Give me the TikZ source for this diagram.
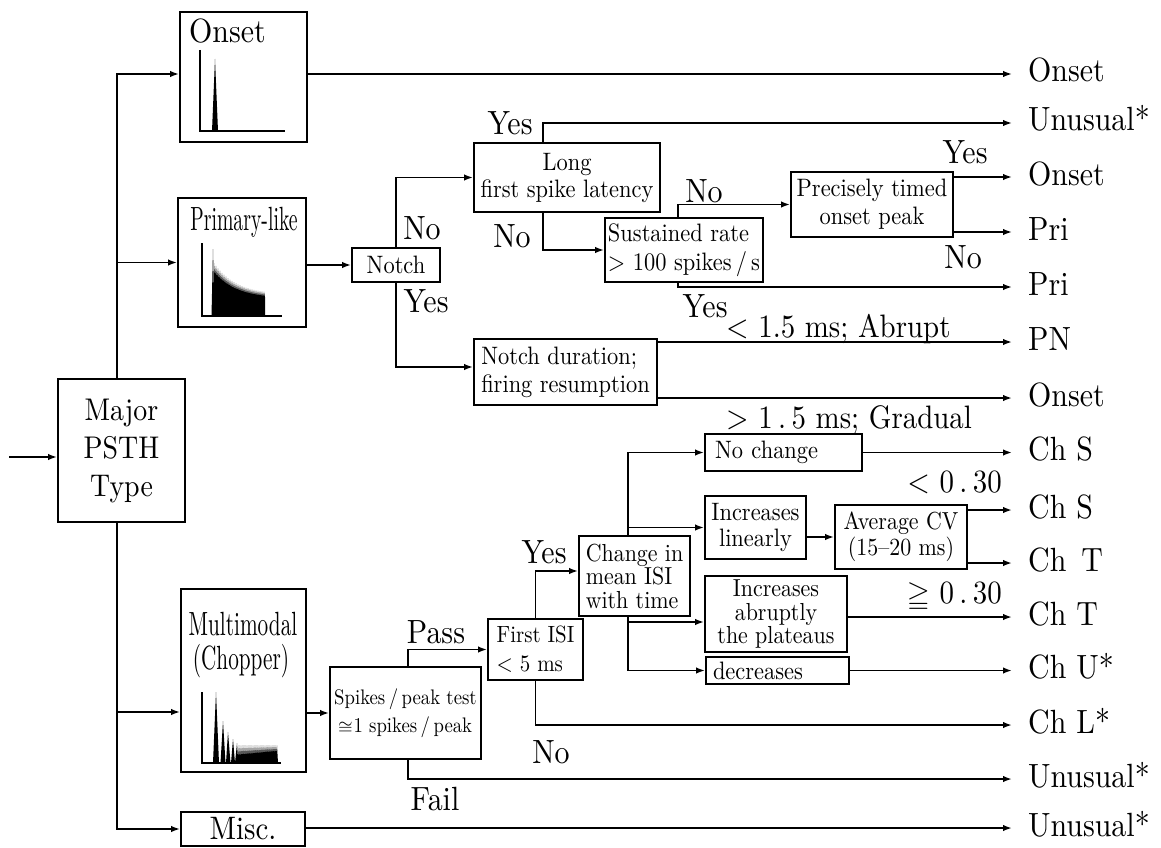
\documentclass[tikz,border=0pt]{standalone}
\usepackage{fontspec}
\usepackage{unicode-math}
% a slightly condensed, taller setting of Latin Modern
\setmainfont{lmroman10-regular.otf}[Scale=1.12, FakeStretch=0.89]
\setmathfont{Latin Modern Math}
\usetikzlibrary{arrows.meta,calc}

\newcommand\BoxFont{\fontsize{22.5}{28}\selectfont}
\newcommand\LblFont{\fontsize{30}{36}\selectfont}
\newcommand\MidFont{\fontsize{29}{34}\selectfont}

\tikzset{
  flowbox/.style={draw, line width=1.9pt, inner sep=0pt, font=\BoxFont},
  flowarrow/.style={line width=1.9pt, -{Latex[length=9pt,width=6.5pt]}},
  axisline/.style={line width=1.5pt},
  lbl/.style={inner sep=0pt, font=\LblFont, anchor=base},
  outlbl/.style={inner sep=0pt, font=\LblFont, anchor=base west},
  midlbl/.style={inner sep=0pt, font=\MidFont},
}

\begin{document}
\begin{tikzpicture}[x=1pt,y=-1pt]
\useasboundingbox (0,0) rectangle (1161,848);

% ---------- first column: PSTH shapes ----------
\node[flowbox, minimum width=127pt, minimum height=143pt, font=\fontsize{28}{38}\selectfont, align=center]
  (major) at (121.5,450.5) {Major\\PSTH\\Type};

\node[flowbox, minimum width=127pt, minimum height=130pt] (onsetbox) at (243.5,77) {};
\node[inner sep=0pt, anchor=base west, font=\LblFont] (onsettitle) at (189,43) {Onset};
\draw[axisline] (200,50) -- (200,131) -- (285,131);
\fill (212,131) -- (215,59) -- (218,131) -- cycle;

\node[flowbox, minimum width=128pt, minimum height=129pt] (primbox) at (242,262.5) {};
\node[inner sep=0pt, anchor=base, font=\LblFont] (primtitle) at (244,230) {\scalebox{0.66}[1]{Primary-like}};
\draw[axisline] (202,243) -- (202,316) -- (282,316);
\fill (211.5,316) -- (213,249) -- (214.5,316) -- cycle;
\fill (214,316) \foreach \k in {0,...,51} { -- ({214+\k},{316-(21+32*exp(-\k/22))*(1-0.22*mod(\k,2))}) } -- (265,316) -- cycle;

\node[flowbox, minimum width=125pt, minimum height=183pt] (multbox) at (243.5,680.5) {};
\node[inner sep=0pt, anchor=base, font=\LblFont] (multtitle) at (243,635) {\scalebox{0.71}[1]{Multimodal}};
\node[inner sep=0pt, anchor=base, font=\LblFont] (choptitle) at (241,669) {\scalebox{0.71}[1]{(Chopper)}};
\draw[axisline] (202,692) -- (202,763) -- (281,763);
\fill (213,763) -- (216,692) -- (219,763) -- cycle;
\fill (220.5,763) -- (223,721) -- (225.5,763) -- cycle;
\fill (226,763) -- (228,732) -- (230.5,763) -- cycle;
\fill (231,763) -- (233,739) -- (235,763) -- cycle;
\fill (235,763) -- (237,743) \foreach \k in {1,...,20} { -- ({237+2*\k-1},{758-0.25*\k}) -- ({237+2*\k},{745+0.15*mod(\k,3)}) } -- (278,763) -- cycle;

\node[flowbox, minimum width=124pt, minimum height=34pt, font=\MidFont] (miscbox) at (243,829) {Misc.};

% ---------- decision boxes ----------
\node[flowbox, minimum width=88pt, minimum height=34pt] (notch) at (396,265) {Notch};
\node[flowbox, minimum width=186pt, minimum height=69pt, align=center, font=\fontsize{22.5}{27}\selectfont]
  (longbox) at (567,177.5) {Long\\first spike latency};
\node[flowbox, minimum width=158pt, minimum height=64pt, align=left, font=\fontsize{22.5}{29}\selectfont]
  (sustbox) at (684,250) {Sustained rate\\> 100 spikes\,/\,s};
\node[flowbox, minimum width=162pt, minimum height=65pt, align=center]
  (precbox) at (872,204.5) {Precisely timed\\onset peak};
\node[flowbox, minimum width=183pt, minimum height=66pt, align=left]
  (notchdur) at (565.5,372) {Notch duration;\\firing resumption};

\node[flowbox, minimum width=151pt, minimum height=92pt, align=center, font=\fontsize{18.8}{28}\selectfont]
  (spikesbox) at (405.5,713) {Spikes\,/\,peak test\\$\cong$1 spikes\,/\,peak};
\node[flowbox, minimum width=95pt, minimum height=61pt, align=left, font=\fontsize{21}{29}\selectfont]
  (firstisi) at (535.5,649.5) {First ISI\\< 5 ms};
\node[flowbox, minimum width=111pt, minimum height=80pt, align=left, font=\fontsize{22}{23.5}\selectfont]
  (change) at (634.5,576) {Change in\\mean ISI\\with time};
\node[flowbox, minimum width=157pt, minimum height=37pt, text width=137pt, inner xsep=10pt, align=left]
  (nochange) at (783.5,452.5) {No change};
\node[flowbox, minimum width=101pt, minimum height=63pt, align=center, font=\fontsize{22.5}{26}\selectfont]
  (inclin) at (755.5,527.5) {Increases\\linearly};
\node[flowbox, minimum width=132pt, minimum height=64pt, align=center, font=\fontsize{22}{26}\selectfont]
  (avgcv) at (901,537) {Average CV\\(15--20 ms)};
\node[flowbox, minimum width=142pt, minimum height=76pt, align=center, font=\fontsize{22}{23.5}\selectfont]
  (incabr) at (776,614) {Increases\\abruptly\\the plateaus};
\node[flowbox, minimum width=143pt, minimum height=27pt, text width=129pt, inner xsep=7pt, align=left]
  (decr) at (777.5,670.5) {decreases};

% ---------- junctions and end points ----------
\coordinate (src) at (9,457);
\coordinate (jtop) at (117,379);
\coordinate (jbot) at (117,522);
\coordinate (e1) at (1012,74);
\coordinate (e2) at (1012,123);
\coordinate (e3) at (1012,177);
\coordinate (e4) at (1012,232);
\coordinate (e5) at (1012,287);
\coordinate (e6) at (1012,342);
\coordinate (e7) at (1012,398);
\coordinate (e8) at (1012,452.5);
\coordinate (e9) at (1012,510);
\coordinate (e10) at (1012,563);
\coordinate (e11) at (1012,617);
\coordinate (e12) at (1012,670.5);
\coordinate (e13) at (1012,725);
\coordinate (e14) at (1012,779);
\coordinate (e15) at (1012,828);

% ---------- connectors ----------
\draw[flowarrow] (src) -- (src -| major.west);
\draw[flowarrow] (jtop) |- ([yshift=3pt]onsetbox.west);
\draw[flowarrow] (jtop) |- (primbox.west);
\draw[flowarrow] (jbot) |- ([yshift=-31.5pt]multbox.west);
\draw[flowarrow] (jbot) |- (miscbox.west);

\draw[flowarrow] (onsetbox.east |- e1) -- (e1);
\draw[flowarrow] (primbox.east |- notch.west) -- (notch.west);
\draw[flowarrow] (notch.north) |- (longbox.west);
\draw[flowarrow] (notch.south) |- ([yshift=5pt]notchdur.west);
\draw[flowarrow] ([xshift=-24pt]longbox.north) |- (e2);
\draw[flowarrow] ([xshift=-24pt]longbox.south) |- (sustbox.west);
\draw[flowarrow] ([xshift=-6pt]sustbox.north) |- (precbox.west);
\draw[flowarrow] ([xshift=-6pt]sustbox.south) |- (e5);
\draw[flowarrow] (precbox.east |- e3) -- (e3);
\draw[flowarrow] (precbox.east |- e4) -- (e4);
\draw[flowarrow] (notchdur.east |- e6) -- (e6);
\draw[flowarrow] (notchdur.east |- e7) -- (e7);

\draw[flowarrow] (multbox.east |- spikesbox.west) -- (spikesbox.west);
\draw[flowarrow] ([xshift=2.5pt]spikesbox.north) |- (firstisi.west);
\draw[flowarrow] ([xshift=2.5pt]spikesbox.south) |- (e14);
\draw[flowarrow] (firstisi.north) |- ([yshift=5pt]change.west);
\draw[flowarrow] (firstisi.south) |- (e13);
\draw[flowarrow] ([xshift=-6.5pt]change.north) |- (nochange.west);
\draw[flowarrow] ([xshift=-6.5pt]change.north) |- (inclin.west);
\draw[flowarrow] ([xshift=-6.5pt]change.south) |- ([yshift=-8pt]incabr.west);
\draw[flowarrow] ([xshift=-6.5pt]change.south) |- (decr.west);
\draw[flowarrow] (inclin.east |- avgcv.west) -- (avgcv.west);
\draw[flowarrow] (nochange.east |- e8) -- (e8);
\draw[flowarrow] (avgcv.east |- e9) -- (e9);
\draw[flowarrow] (avgcv.east |- e10) -- (e10);
\draw[flowarrow] (incabr.east |- e11) -- (e11);
\draw[flowarrow] (decr.east |- e12) -- (e12);
\draw[flowarrow] (miscbox.east |- e15) -- (e15);

% ---------- branch labels ----------
\node[lbl] (yes1) at (510,135) {Yes};
\node[lbl] (no1) at (422,239) {No};
\node[lbl] (yes2) at (426,312) {Yes};
\node[lbl] (no2) at (512,247) {No};
\node[lbl] (no3) at (704,202) {No};
\node[lbl] (yes3) at (705,317) {Yes};
\node[lbl] (yes4) at (965,163) {Yes};
\node[lbl] (no4) at (963,268) {No};
\node[lbl] (yes5) at (544,563) {Yes};
\node[lbl] (pass) at (436,643) {Pass};
\node[lbl] (no5) at (551,763) {No};
\node[lbl] (fail) at (435,810) {Fail};

\node[midlbl, anchor=base west] (abrupt) at (726,337) {< 1.5 ms; Abrupt};
\node[midlbl, anchor=base west] (gradual) at (726,428) {> 1\,.\,5 ms; Gradual};
\node[midlbl, anchor=base east] (cvlow) at (1002,492) {< 0\,.\,30};
\node[midlbl, anchor=base east] (cvhigh) at (1002,603) {$\geqq$ 0\,.\,30};

% ---------- final classes ----------
\node[outlbl] (r1) at ([xshift=16pt,yshift=-8pt]e1) {Onset};
\node[outlbl] (r2) at ([xshift=16pt,yshift=-8pt]e2) {Unusual*};
\node[outlbl] (r3) at ([xshift=16pt,yshift=-8pt]e3) {Onset};
\node[outlbl] (r4) at ([xshift=16pt,yshift=-8pt]e4) {Pri};
\node[outlbl] (r5) at ([xshift=16pt,yshift=-8pt]e5) {Pri};
\node[outlbl] (r6) at ([xshift=16pt,yshift=-8pt]e6) {PN};
\node[outlbl] (r7) at ([xshift=16pt,yshift=-8pt]e7) {Onset};
\node[outlbl] (r8) at ([xshift=16pt,yshift=-8pt]e8) {Ch S};
\node[outlbl] (r9) at ([xshift=16pt,yshift=-8pt]e9) {Ch S};
\node[outlbl] (r10) at ([xshift=16pt,yshift=-8pt]e10) {Ch\hspace{5pt} T};
\node[outlbl] (r11) at ([xshift=16pt,yshift=-8pt]e11) {Ch T};
\node[outlbl] (r12) at ([xshift=16pt,yshift=-8pt]e12) {Ch U*};
\node[outlbl] (r13) at ([xshift=16pt,yshift=-8pt]e13) {Ch L*};
\node[outlbl] (r14) at ([xshift=16pt,yshift=-8pt]e14) {Unusual*};
\node[outlbl] (r15) at ([xshift=16pt,yshift=-8pt]e15) {Unusual*};
\end{tikzpicture}
\end{document}
